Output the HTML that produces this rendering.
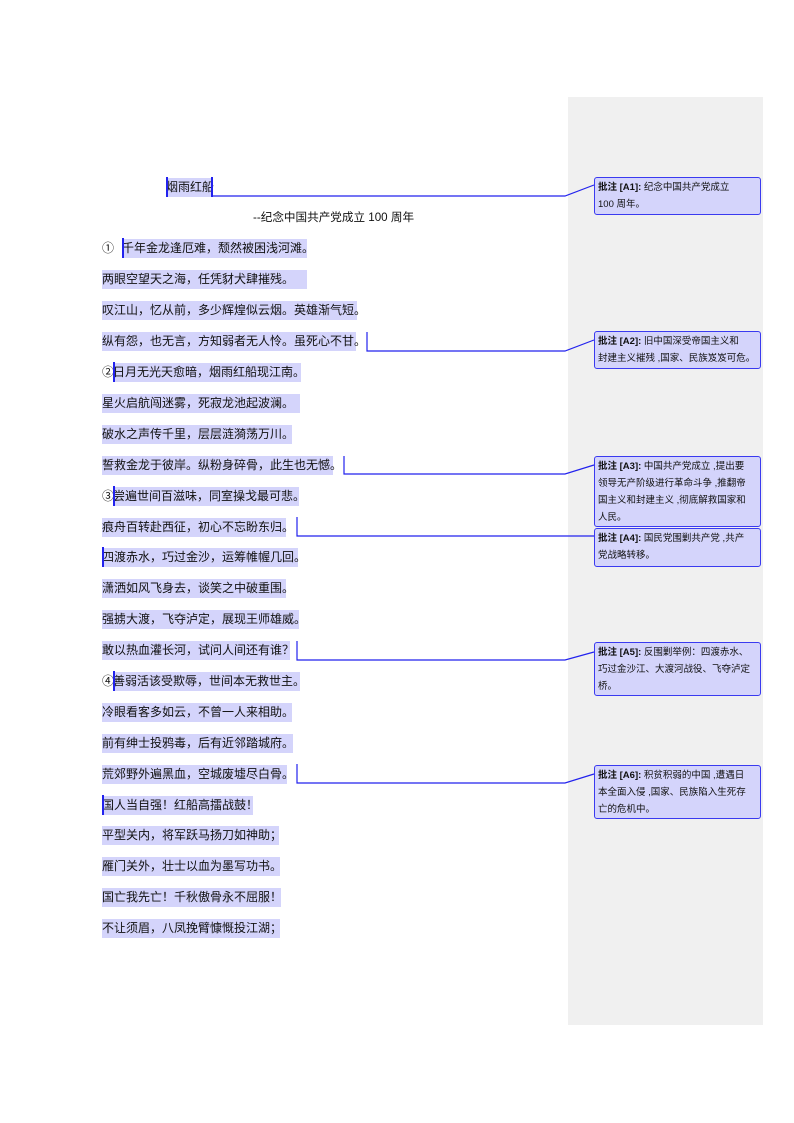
<!DOCTYPE html>
<html><head><meta charset="utf-8"><style>
body{margin:0;width:794px;height:1123px;background:#fff;position:relative;font-family:"Liberation Sans","Noto Sans CJK SC",sans-serif;overflow:hidden}
.side{position:absolute;left:568px;top:97px;width:195px;height:928px;background:#f0f0f0}
.l{position:absolute;height:19px;line-height:19px;font-size:12px;color:#111;white-space:nowrap}
.h{background:#d4d4fb}
.c{position:absolute;left:594px;width:160px;border:1.3px solid #3a3af0;border-radius:3px;background:#d4d4fb;font-size:9.5px;line-height:17px;padding:1px 2px 1px 3px;color:#111;overflow:hidden}
.c b{font-weight:bold}
.m{position:absolute;width:1.5px;background:#2222ee}
svg{position:absolute;left:0;top:0}
</style></head><body>
<div class="side"></div>
<svg width="794" height="1123"><g stroke="#2222ee" stroke-width="1.2" fill="none">
<polyline points="212,196 565,196 594,185"/>
<polyline points="367,332 367,351 565,351 594,340"/>
<polyline points="344,456 344,474 565,474 594,465"/>
<polyline points="297,517 297,536 565,536 594,536"/>
<polyline points="297,641 297,660 565,660 594,652"/>
<polyline points="297,764 297,783 565,783 594,774"/>
</g></svg>
<div class="l h" style="left:166px;top:178px;width:46px">烟雨红船</div>
<div class="m" style="left:166px;top:177px;height:20px"></div>
<div class="m" style="left:211px;top:177px;height:20px"></div>
<div class="l" style="left:253px;top:208px;font-size:11.6px">--纪念中国共产党成立 100 周年</div>
<div class="l" style="left:102px;top:239px">①</div>
<div class="l h" style="left:122px;top:239px;width:185px">千年金龙逢厄难，颓然被困浅河滩。</div>
<div class="m" style="left:122px;top:238px;height:20px"></div>
<div class="l h" style="left:102px;top:270px;width:205px">两眼空望天之海，任凭豺犬肆摧残。</div>
<div class="l h" style="left:102px;top:301px;width:255px">叹江山，忆从前，多少辉煌似云烟。英雄渐气短。</div>
<div class="l h" style="left:102px;top:332px;width:254px">纵有怨，也无言，方知弱者无人怜。虽死心不甘。</div>
<div class="l" style="left:102px;top:363px">②</div>
<div class="l h" style="left:113px;top:363px;width:188px">日月无光天愈暗，烟雨红船现江南。</div>
<div class="m" style="left:113px;top:362px;height:20px"></div>
<div class="l h" style="left:102px;top:394px;width:198px">星火启航闯迷雾，死寂龙池起波澜。</div>
<div class="l h" style="left:102px;top:425px;width:190px">破水之声传千里，层层涟漪荡万川。</div>
<div class="l h" style="left:102px;top:456px;width:231px">誓救金龙于彼岸。纵粉身碎骨，此生也无憾。</div>
<div class="l" style="left:102px;top:487px">③</div>
<div class="l h" style="left:113px;top:487px;width:186px">尝遍世间百滋味，同室操戈最可悲。</div>
<div class="m" style="left:113px;top:486px;height:20px"></div>
<div class="l h" style="left:102px;top:518px;width:184px">痕舟百转赴西征，初心不忘盼东归。</div>
<div class="l h" style="left:102px;top:548px;width:196px">四渡赤水，巧过金沙，运筹帷幄几回。</div>
<div class="m" style="left:102px;top:547px;height:20px"></div>
<div class="l h" style="left:102px;top:579px;width:184px">潇洒如风飞身去，谈笑之中破重围。</div>
<div class="l h" style="left:102px;top:610px;width:197px">强掳大渡，飞夺泸定，展现王师雄威。</div>
<div class="l h" style="left:102px;top:641px;width:188px">敢以热血灌长河，试问人间还有谁？</div>
<div class="l" style="left:102px;top:672px">④</div>
<div class="l h" style="left:113px;top:672px;width:187px">善弱活该受欺辱，世间本无救世主。</div>
<div class="m" style="left:113px;top:671px;height:20px"></div>
<div class="l h" style="left:102px;top:703px;width:190px">冷眼看客多如云，不曾一人来相助。</div>
<div class="l h" style="left:102px;top:734px;width:191px">前有绅士投鸦毒，后有近邻踏城府。</div>
<div class="l h" style="left:102px;top:765px;width:185px">荒郊野外遍黑血，空城废墟尽白骨。</div>
<div class="l h" style="left:102px;top:796px;width:151px">国人当自强！红船高擂战鼓！</div>
<div class="m" style="left:102px;top:795px;height:20px"></div>
<div class="l h" style="left:102px;top:826px;width:177px">平型关内，将军跃马扬刀如神助；</div>
<div class="l h" style="left:102px;top:857px;width:178px">雁门关外，壮士以血为墨写功书。</div>
<div class="l h" style="left:102px;top:888px;width:179px">国亡我先亡！千秋傲骨永不屈服！</div>
<div class="l h" style="left:102px;top:919px;width:178px">不让须眉，八凤挽臂慷慨投江湖；</div>
<div class="c" style="top:177px;height:34px"><b>批注 [A1]:</b> 纪念中国共产党成立<br>100 周年。</div>
<div class="c" style="top:331px;height:34px"><b>批注 [A2]:</b> 旧中国深受帝国主义和<br>封建主义摧残 ,国家、民族岌岌可危。</div>
<div class="c" style="top:456px;height:67px"><b>批注 [A3]:</b> 中国共产党成立 ,提出要<br>领导无产阶级进行革命斗争 ,推翻帝<br>国主义和封建主义 ,彻底解救国家和<br>人民。</div>
<div class="c" style="top:528px;height:35px"><b>批注 [A4]:</b> 国民党围剿共产党 ,共产<br>党战略转移。</div>
<div class="c" style="top:642px;height:50px"><b>批注 [A5]:</b> 反围剿举例：四渡赤水、<br>巧过金沙江、大渡河战役、飞夺泸定<br>桥。</div>
<div class="c" style="top:765px;height:50px"><b>批注 [A6]:</b> 积贫积弱的中国 ,遭遇日<br>本全面入侵 ,国家、民族陷入生死存<br>亡的危机中。</div>
</body></html>
